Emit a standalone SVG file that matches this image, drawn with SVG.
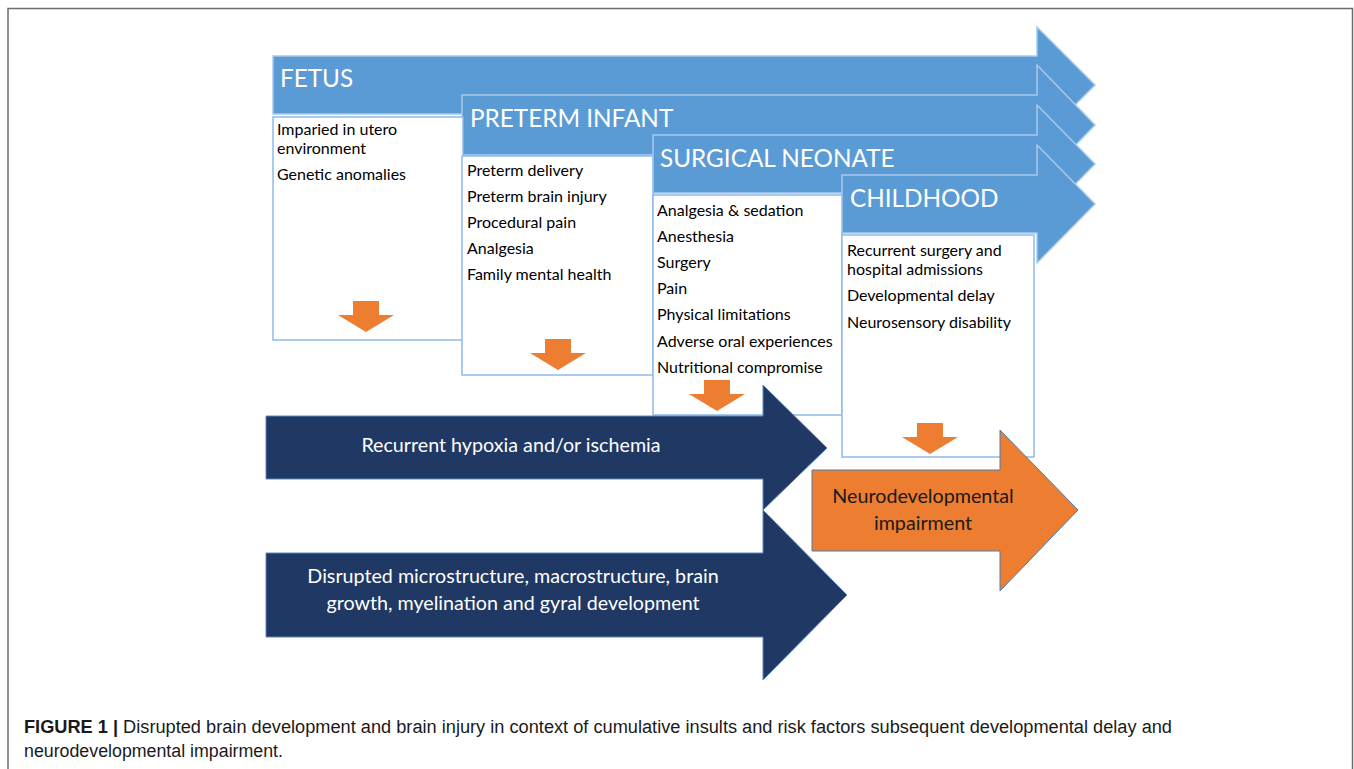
<svg xmlns="http://www.w3.org/2000/svg" xmlns:xlink="http://www.w3.org/1999/xlink" width="1354" height="769" viewBox="0 0 1354 769">
  <style>
    .stage { fill: #5b9bd5; stroke: #a9c9ea; stroke-width: 1.5; }
    .stage-title { font-family: Lato, "Open Sans", sans-serif; font-size: 24.3px; fill: #ffffff; }
    .box { fill: #ffffff; stroke: #8dbbe8; stroke-width: 1.5; }
    .item { font-family: Lato, "Open Sans", sans-serif; font-size: 16px; fill: #000000; }
    .drop { fill: #ed7d31; }
    .insult { fill: #203864; stroke: #5b86c0; stroke-width: 1; }
    .insult-text { font-family: Lato, "Open Sans", sans-serif; font-size: 19.7px; fill: #ffffff; text-anchor: middle; }
    .outcome { fill: #ed7d31; stroke: #4a7cb5; stroke-width: 1; }
    .outcome-text { font-family: Lato, "Open Sans", sans-serif; font-size: 19.7px; fill: #1a1a1a; text-anchor: middle; }
    .caption { font-family: "Liberation Sans", Arial, sans-serif; font-size: 18px; fill: #1a1a1a; }
  </style>
  <defs>
    <!-- small downward block arrow used under each stage list -->
    <path id="drop-arrow" class="drop" d="M-13,0 H13 V14 H28 L0,31 L-28,14 H-13 Z"/>
  </defs>

  <rect width="1354" height="769" fill="#ffffff"/>
  <path d="M8,769 V8.5 H1352.5 V769" fill="none" stroke="#6b6b6b" stroke-width="1.5"/>

  <!-- stage banners -->
  <g id="fetus">
    <path class="stage" d="M273,56 H1037 V27 L1095,85 L1037,143 V114 H273 Z"/>
    <text class="stage-title" x="280" y="87">FETUS</text>
  </g>
  <g id="preterm-infant">
    <path class="stage" d="M462,95 H1037 V65 L1095,125 L1037,185 V155 H462 Z"/>
    <text class="stage-title" x="470" y="127">PRETERM INFANT</text>
  </g>
  <g id="surgical-neonate">
    <path class="stage" d="M653,135 H1037 V105 L1095,164 L1037,223 V193 H653 Z"/>
    <text class="stage-title" x="660" y="167">SURGICAL NEONATE</text>
  </g>
  <g id="childhood">
    <path class="stage" d="M842,175 H1037 V145 L1095,204 L1037,263 V233 H842 Z"/>
    <text class="stage-title" x="850" y="207">CHILDHOOD</text>
  </g>

  <!-- risk factor lists -->
  <g id="fetus-risks">
    <rect class="box" x="273" y="117" width="190" height="223"/>
    <text class="item" x="277" y="135">Imparied in utero</text>
    <text class="item" x="277" y="154">environment</text>
    <text class="item" x="277" y="180">Genetic anomalies</text>
    <use xlink:href="#drop-arrow" x="366" y="301"/>
  </g>
  <g id="preterm-risks">
    <rect class="box" x="462" y="156" width="191" height="219"/>
    <text class="item" x="467" y="176">Preterm delivery</text>
    <text class="item" x="467" y="202">Preterm brain injury</text>
    <text class="item" x="467" y="228">Procedural pain</text>
    <text class="item" x="467" y="254">Analgesia</text>
    <text class="item" x="467" y="280">Family mental health</text>
    <use xlink:href="#drop-arrow" x="558" y="339"/>
  </g>
  <g id="surgical-risks">
    <rect class="box" x="653" y="195" width="189" height="220"/>
    <text class="item" x="657" y="216">Analgesia &amp; sedation</text>
    <text class="item" x="657" y="242">Anesthesia</text>
    <text class="item" x="657" y="268">Surgery</text>
    <text class="item" x="657" y="294">Pain</text>
    <text class="item" x="657" y="320">Physical limitations</text>
    <text class="item" x="657" y="347">Adverse oral experiences</text>
    <text class="item" x="657" y="373">Nutritional compromise</text>
    <use xlink:href="#drop-arrow" x="717" y="380"/>
  </g>
  <g id="childhood-risks">
    <rect class="box" x="842" y="235" width="192" height="222"/>
    <text class="item" x="847" y="256">Recurrent surgery and</text>
    <text class="item" x="847" y="275">hospital admissions</text>
    <text class="item" x="847" y="301">Developmental delay</text>
    <text class="item" x="847" y="328">Neurosensory disability</text>
    <use xlink:href="#drop-arrow" x="930" y="423"/>
  </g>

  <!-- cumulative insults -->
  <g id="hypoxia-ischemia">
    <path class="insult" d="M266,416 H763 V385 L827,448 L763,510 V479 H266 Z"/>
    <text class="insult-text" x="511" y="452">Recurrent hypoxia and/or ischemia</text>
  </g>
  <g id="disrupted-development">
    <path class="insult" d="M266,553 H763 V510 L847,595 L763,680 V637 H266 Z"/>
    <text class="insult-text" x="513" y="583">Disrupted microstructure, macrostructure, brain</text>
    <text class="insult-text" x="513" y="610">growth, myelination and gyral development</text>
  </g>
  <g id="neurodevelopmental-impairment">
    <path class="outcome" d="M812,470 H1000 V430 L1078,510 L1000,591 V551 H812 Z"/>
    <text class="outcome-text" x="923" y="503">Neurodevelopmental</text>
    <text class="outcome-text" x="923" y="530">impairment</text>
  </g>

  <g id="caption">
    <text class="caption" x="24" y="733" textLength="1148" lengthAdjust="spacingAndGlyphs"><tspan font-weight="bold">FIGURE 1 |</tspan> Disrupted brain development and brain injury in context of cumulative insults and risk factors subsequent developmental delay and</text>
    <text class="caption" x="24" y="757" textLength="259" lengthAdjust="spacingAndGlyphs">neurodevelopmental impairment.</text>
  </g>
</svg>
